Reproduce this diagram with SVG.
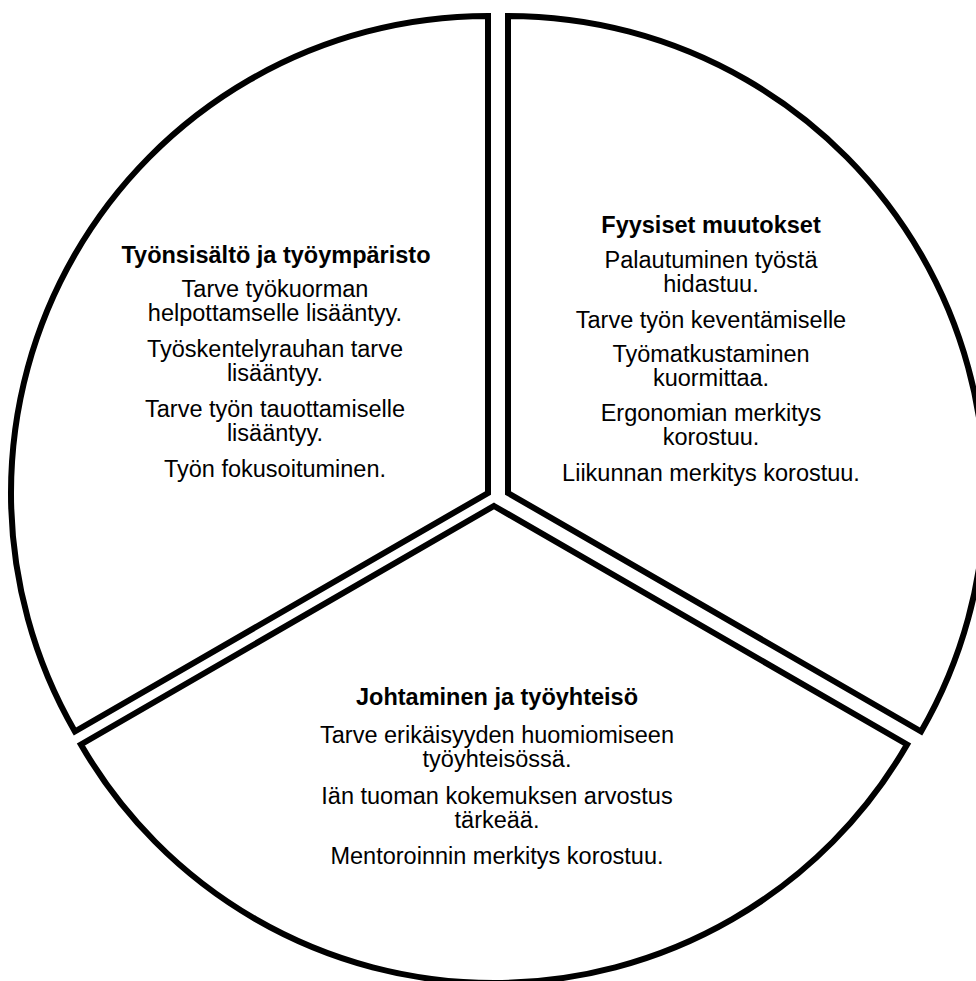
<svg xmlns="http://www.w3.org/2000/svg" width="976" height="981" viewBox="0 0 976 981">
<style>
.seg{fill:#fff;stroke:#000;stroke-width:6;stroke-linejoin:miter}
text{font-family:"Liberation Sans",Arial,sans-serif;font-size:23.5px;fill:#000;text-anchor:middle}
.t{font-weight:bold}
</style>
<rect width="976" height="981" fill="#fff"/>
<g id="seg-left">
<path class="seg" d="M488,493 L488,16 A477,477 0 0 0 74.9,731.5 Z"/>
<text class="t" x="276" y="263">Työnsisältö ja työympäristo</text>
<text x="275" y="297">Tarve työkuorman</text>
<text x="275" y="321">helpottamselle lisääntyy.</text>
<text x="275" y="357">Työskentelyrauhan tarve</text>
<text x="275" y="381">lisääntyy.</text>
<text x="275" y="417">Tarve työn tauottamiselle</text>
<text x="275" y="441">lisääntyy.</text>
<text x="275" y="477">Työn fokusoituminen.</text>
</g>
<g id="seg-right">
<path class="seg" d="M508,493 L508,16 A477,477 0 0 1 921.1,731.5 Z"/>
<text class="t" x="711" y="233">Fyysiset muutokset</text>
<text x="711" y="268">Palautuminen työstä</text>
<text x="711" y="292">hidastuu.</text>
<text x="711" y="328">Tarve työn keventämiselle</text>
<text x="711" y="362">Työmatkustaminen</text>
<text x="711" y="386">kuormittaa.</text>
<text x="711" y="421">Ergonomian merkitys</text>
<text x="711" y="445">korostuu.</text>
<text x="711" y="481">Liikunnan merkitys korostuu.</text>
</g>
<g id="seg-bottom">
<path class="seg" d="M494,506 L907.1,744.5 A477,477 0 0 1 80.9,744.5 Z"/>
<text class="t" x="497" y="705">Johtaminen ja työyhteisö</text>
<text x="497" y="743">Tarve erikäisyyden huomiomiseen</text>
<text x="497" y="767">työyhteisössä.</text>
<text x="497" y="804">Iän tuoman kokemuksen arvostus</text>
<text x="497" y="828">tärkeää.</text>
<text x="497" y="864">Mentoroinnin merkitys korostuu.</text>
</g>
<g id="connectors"/>
</svg>
